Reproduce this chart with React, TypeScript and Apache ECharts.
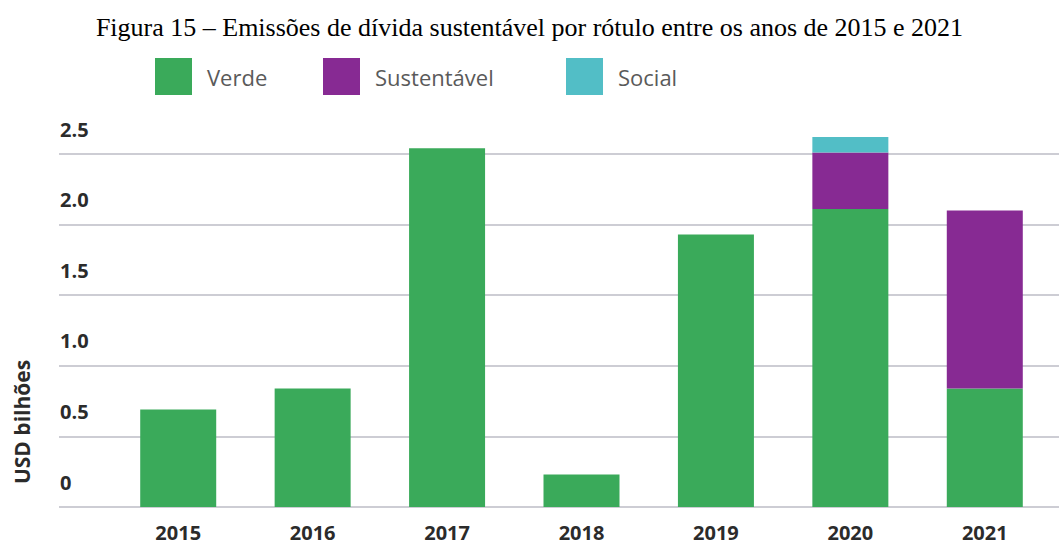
import React, { useEffect, useRef } from "react";
import * as echarts from "echarts";

const years = ["2015", "2016", "2017", "2018", "2019", "2020", "2021"];
const verde = [0.69, 0.84, 2.54, 0.23, 1.93, 2.11, 0.84];
const sustentavel = [0, 0, 0, 0, 0, 0.4, 1.26];
const social = [0, 0, 0, 0, 0, 0.11, 0];
const yTicks = [0, 0.5, 1.0, 1.5, 2.0, 2.5];

const GREEN = "#3AAA5A";
const PURPLE = "#872A93";
const CYAN = "#52BEC6";

export default function App() {
  const ref = useRef<HTMLDivElement>(null);
  useEffect(() => {
    if (!ref.current) return;
    const chart = echarts.init(ref.current, undefined, { renderer: "svg" });
    const legendText = { fontFamily: "Open Sans", fontSize: 22, color: "#5a5a5a" };
    const mkLegend = (name: string, left: number) => ({
      data: [name],
      left,
      top: 58,
      padding: 0,
      itemWidth: 37,
      itemHeight: 37,
      itemGap: 0,
      icon: "rect",
      textStyle: { ...legendText, padding: [0, 0, 4, 10] },
      selectedMode: false,
    });
    chart.setOption({
      animation: false,
      backgroundColor: "#ffffff",
      title: {
        text: "Figura 15 – Emissões de dívida sustentável por rótulo entre os anos de 2015 e 2021",
        left: "center",
        top: 14,
        padding: 0,
        textStyle: {
          fontFamily: "Liberation Serif",
          fontWeight: "normal",
          fontSize: 26,
          color: "#000000",
        },
      },
      legend: [mkLegend("Verde", 155), mkLegend("Sustentável", 323), mkLegend("Social", 566)],
      graphic: [
        {
          type: "text",
          x: 22,
          y: 422,
          rotation: Math.PI / 2,
          style: {
            text: "USD bilhões",
            fontFamily: "Open Sans",
            fontWeight: "bold",
            fontSize: 21,
            fill: "#2b2b2b",
            textAlign: "center",
            textVerticalAlign: "middle",
          },
        },
      ],
      grid: [
        { left: 111, right: 7, top: 154, bottom: 38 },
        { left: 59, right: 0, top: 154, bottom: 38 },
      ],
      xAxis: [
        {
          type: "category",
          gridIndex: 0,
          data: years,
          axisLine: { show: false },
          axisTick: { show: false },
          axisLabel: {
            margin: 15,
            fontFamily: "Open Sans",
            fontWeight: "bold",
            fontSize: 20,
            color: "#2b2b2b",
          },
        },
        { type: "value", gridIndex: 1, min: 0, max: 1, show: false },
      ],
      yAxis: [
        { type: "value", gridIndex: 0, min: 0, max: 2.5, show: false },
        {
          type: "value",
          gridIndex: 1,
          min: 0,
          max: 2.5,
          interval: 0.5,
          axisLine: { show: false },
          axisTick: { show: false },
          splitLine: { lineStyle: { color: "#bdbcc6", width: 1.5 } },
          axisLabel: {
            inside: true,
            margin: 1,
            align: "left",
            verticalAlign: "bottom",
            padding: [0, 0, 14, 0],
            lineHeight: 22,
            fontFamily: "Open Sans",
            fontWeight: "bold",
            fontSize: 20,
            color: "#2b2b2b",
            formatter: (v: number) => (yTicks.includes(v) ? (v === 0 ? "0" : v.toFixed(1)) : ""),
          },
        },
      ],
      series: [
        {
          name: "Verde",
          type: "bar",
          stack: "total",
          barWidth: 76,
          clip: false,
          itemStyle: { color: GREEN },
          data: verde,
        },
        {
          name: "Sustentável",
          type: "bar",
          stack: "total",
          barWidth: 76,
          clip: false,
          itemStyle: { color: PURPLE },
          data: sustentavel,
        },
        {
          name: "Social",
          type: "bar",
          stack: "total",
          barWidth: 76,
          clip: false,
          itemStyle: { color: CYAN },
          data: social,
        },
      ],
    });
    return () => chart.dispose();
  }, []);
  return (
    <div
      ref={ref}
      style={{ position: "fixed", left: 0, top: 0, width: 1059, height: 545 }}
    />
  );
}
